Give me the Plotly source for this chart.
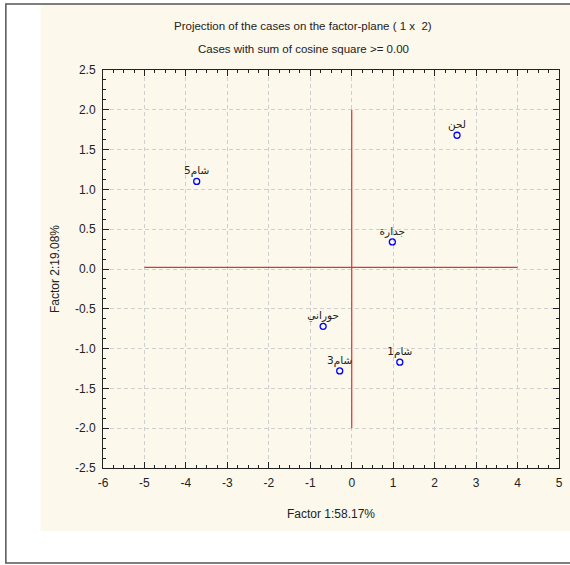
import plotly.graph_objects as go

names = ["شام5", "لحن", "جدارة", "حوراني", "شام3", "شام1"]
factor1 = [-3.74, 2.54, 0.98, -0.69, -0.29, 1.16]
factor2 = [1.10, 1.68, 0.34, -0.72, -1.28, -1.17]

hline_x = [-5, 4]
hline_y = [0.02, 0.02]
vline_x = [0, 0]
vline_y = [-2, 2]

x_ticks = [-6, -5, -4, -3, -2, -1, 0, 1, 2, 3, 4, 5]
y_ticks = [-2.5, -2.0, -1.5, -1.0, -0.5, 0.0, 0.5, 1.0, 1.5, 2.0, 2.5]

font = "Liberation Sans, Arial, sans-serif"
L, R, T, B = 103, 7, 70, 97
W, H = 570, 565
pw, ph = W - L - R, H - T - B

def px(x):
    return (x - L) / pw

def py(y):
    return (H - B - y) / ph

fig = go.Figure()
fig.add_trace(go.Scatter(x=hline_x, y=hline_y, mode="lines",
                         line=dict(color="#d83838", width=1.2), hoverinfo="skip"))
fig.add_trace(go.Scatter(x=vline_x, y=vline_y, mode="lines",
                         line=dict(color="#e03030", width=1.2), hoverinfo="skip"))
fig.add_trace(go.Scatter(x=factor1, y=factor2, mode="markers+text", text=names,
                         textposition="top center",
                         textfont=dict(family="DejaVu Sans, sans-serif", size=10.5, color="#222"),
                         marker=dict(symbol="circle-open", size=6, color="#0000ff",
                                     line=dict(width=1.3, color="#0000ff"))))

axis_common = dict(showgrid=True, gridcolor="#cfcfcf", griddash="4px,3px", gridwidth=1,
                   zeroline=False, showline=True, linecolor="#222", linewidth=1,
                   mirror="ticks", ticks="inside", ticklen=6, tickcolor="#222",
                   tickfont=dict(family=font, size=12, color="#222"))

fig.update_xaxes(range=[-6, 5], tickvals=x_ticks, ticktext=[str(v) for v in x_ticks],
                 ticklabelstandoff=4,
                 minor=dict(dtick=0.25, ticks="inside", ticklen=3, tickcolor="#222",
                            showgrid=False, gridcolor="rgba(0,0,0,0)"),
                 title=dict(text="Factor 1:58.17%", font=dict(family=font, size=12, color="#222"),
                            standoff=20),
                 **axis_common)
fig.update_yaxes(range=[-2.5, 2.5], tickvals=y_ticks, ticktext=[f"{v:.1f}" for v in y_ticks],
                 ticklabelstandoff=4,
                 minor=dict(dtick=0.125, ticks="inside", ticklen=3, tickcolor="#222",
                            showgrid=False, gridcolor="rgba(0,0,0,0)"),
                 title=dict(text="Factor 2:19.08%", font=dict(family=font, size=12, color="#222"),
                            standoff=12),
                 **axis_common)

shapes = [
    dict(type="rect", xref="paper", yref="paper", x0=px(40), x1=px(575), y0=py(531), y1=py(3),
         fillcolor="#fdf8ec", line=dict(width=0), layer="below"),
    dict(type="rect", xref="paper", yref="paper", x0=px(5), x1=px(580), y0=py(563), y1=py(4),
         fillcolor="rgba(0,0,0,0)", line=dict(color="#555", width=1.5), layer="above"),
]

annotations = [
    dict(text="Projection of the cases on the factor-plane ( 1 x  2)", xref="paper", yref="paper",
         x=px(305), y=py(26), showarrow=False, xanchor="center", yanchor="middle",
         font=dict(family=font, size=11.5, color="#222")),
    dict(text="Cases with sum of cosine square >= 0.00", xref="paper", yref="paper",
         x=px(305), y=py(49), showarrow=False, xanchor="center", yanchor="middle",
         font=dict(family=font, size=11.5, color="#222")),
]

fig.update_layout(width=W, height=H, margin=dict(l=L, r=R, t=T, b=B),
                  paper_bgcolor="white", plot_bgcolor="white", showlegend=False,
                  shapes=shapes, annotations=annotations)

fig.write_html("out.html", config={"displayModeBar": False},
               post_script="document.body.style.margin='0';document.body.style.overflow='hidden';")
